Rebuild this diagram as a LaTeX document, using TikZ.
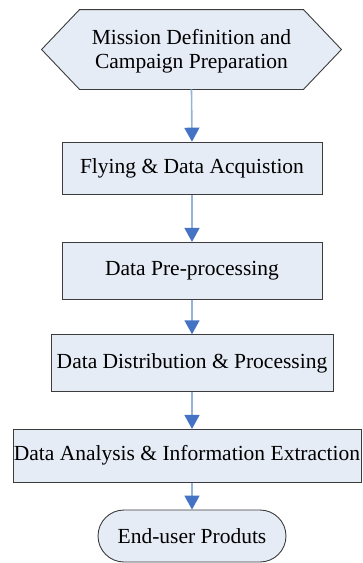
\documentclass[tikz,border=0pt]{standalone}
\usepackage{fontspec}
\setmainfont{Liberation Serif}
\usepackage{xcolor}
\usetikzlibrary{arrows.meta,positioning,backgrounds}

\definecolor{boxfill}{RGB}{230,236,246}
\definecolor{boxline}{RGB}{60,60,60}
\definecolor{lineblue}{RGB}{147,178,220}
\definecolor{headblue}{RGB}{68,114,196}

\begin{document}
\begin{tikzpicture}[x=1pt, y=-1pt,
  box/.style={draw=boxline, line width=0.9pt, fill=boxfill,
              font=\fontsize{21.5}{24}\selectfont, align=center,
              inner sep=0pt},
  hexbox/.style={box, draw=none, fill=none},
  oval/.style={box, rounded corners=26pt},
  arr/.style={draw=lineblue, line width=1.6pt,
              -{Triangle[length=14pt,width=15pt,color=headblue]}},
]
  \useasboundingbox (0,0) rectangle (362,563);
  %% start of the campaign
  \node[hexbox] (mission) at (191.5,51.5) [minimum width=223pt, minimum height=79pt]
    {Mission Definition and\\Campaign Preparation};
  \begin{scope}[on background layer]
    \draw[draw=boxline, line width=0.9pt, fill=boxfill]
      ([yshift=2pt]mission.north west) -- ([yshift=2pt]mission.north east)
      -- ([xshift=38pt,yshift=2pt]mission.east)
      -- ([yshift=2pt]mission.south east) -- ([yshift=2pt]mission.south west)
      -- ([xshift=-38pt,yshift=2pt]mission.west) -- cycle;
  \end{scope}
  %% processing chain
  \node[box] (fly)  at (192,168.5) [minimum width=260pt, minimum height=52.7pt]
    {Flying \& Data Acquistion};
  \node[box] (prep) at (192,270.7) [minimum width=260pt, minimum height=56.7pt]
    {Data Pre-processing};
  \node[box] (dist) at (192,363.2) [minimum width=282pt, minimum height=57pt]
    {Data Distribution \& Processing};
  \node[box] (analysis) at (187,455.7) [minimum width=348pt, minimum height=52.7pt]
    {Data Analysis \& Information Extraction};
  \node[oval] (product) at (192,536) [minimum width=188pt, minimum height=52pt]
    {End-user Produts};
  \draw[arr] ([yshift=2pt]mission.south) -- (fly.north);
  \draw[arr] (fly.south) -- (prep.north);
  \draw[arr] (prep.south) -- (dist.north);
  \draw[arr] (dist.south) -- (dist.south |- analysis.north);
  \draw[arr] (analysis.south -| product.north) -- (product.north);
\end{tikzpicture}
\end{document}
